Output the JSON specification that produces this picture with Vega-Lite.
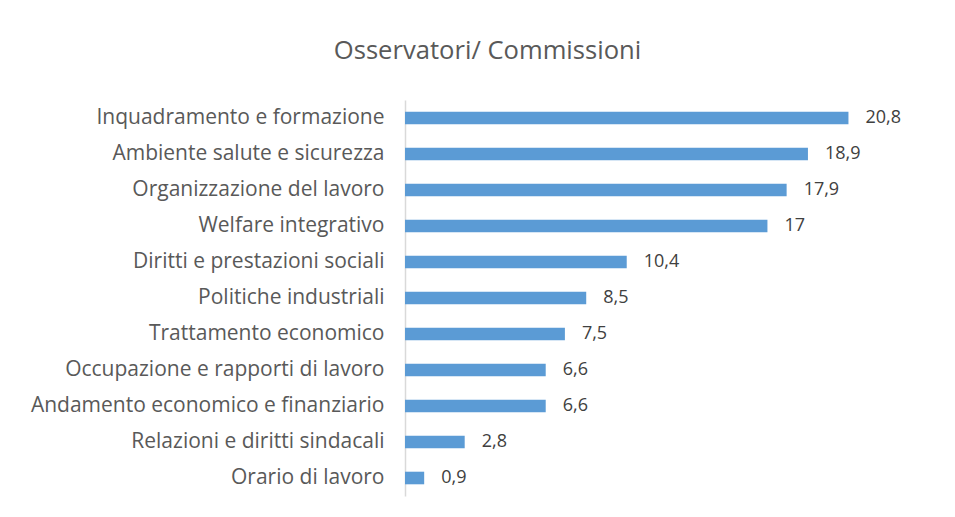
{
  "$schema": "https://vega.github.io/schema/vega-lite/v6.json",
  "width": 533,
  "height": 396,
  "autosize": {"type": "none"},
  "padding": {"left": 405, "top": 100, "right": 17, "bottom": 21},
  "background": "white",
  "config": {
    "view": {"stroke": null},
    "font": "Open Sans",
    "locale": {"number": {"decimal": ",", "thousands": ".", "grouping": [3], "currency": ["", " €"]}}
  },
  "title": {
    "text": "Osservatori/ Commissioni",
    "font": "Open Sans",
    "fontSize": 25.6,
    "fontWeight": "normal",
    "color": "#595959",
    "anchor": "middle",
    "dx": -184,
    "offset": 35
  },
  "data": {
    "values": [
      {"categoria": "Inquadramento e formazione", "valore": 20.8},
      {"categoria": "Ambiente salute e sicurezza", "valore": 18.9},
      {"categoria": "Organizzazione del lavoro", "valore": 17.9},
      {"categoria": "Welfare integrativo", "valore": 17},
      {"categoria": "Diritti e prestazioni sociali", "valore": 10.4},
      {"categoria": "Politiche industriali", "valore": 8.5},
      {"categoria": "Trattamento economico", "valore": 7.5},
      {"categoria": "Occupazione e rapporti di lavoro", "valore": 6.6},
      {"categoria": "Andamento economico e finanziario", "valore": 6.6},
      {"categoria": "Relazioni e diritti sindacali", "valore": 2.8},
      {"categoria": "Orario di lavoro", "valore": 0.9}
    ]
  },
  "encoding": {
    "y": {
      "field": "categoria",
      "type": "nominal",
      "sort": null,
      "scale": {"paddingInner": 0.65, "paddingOuter": 0.325},
      "axis": {
        "title": null,
        "ticks": false,
        "domain": true,
        "domainColor": "#D9D9D9",
        "domainWidth": 1.5,
        "labelFont": "Open Sans",
        "labelFontSize": 21,
        "labelColor": "#595959",
        "labelPadding": 21,
        "labelLimit": 400
      }
    },
    "x": {
      "field": "valore",
      "type": "quantitative",
      "scale": {"domain": [0, 25], "nice": false},
      "axis": null
    }
  },
  "layer": [
    {"mark": {"type": "bar", "color": "#5B9BD5"}},
    {
      "mark": {"type": "text", "align": "left", "baseline": "middle", "dx": 17, "font": "Open Sans", "fontSize": 18, "color": "#404040"},
      "encoding": {"text": {"field": "valore", "type": "quantitative", "format": ".1~f"}}
    }
  ]
}
